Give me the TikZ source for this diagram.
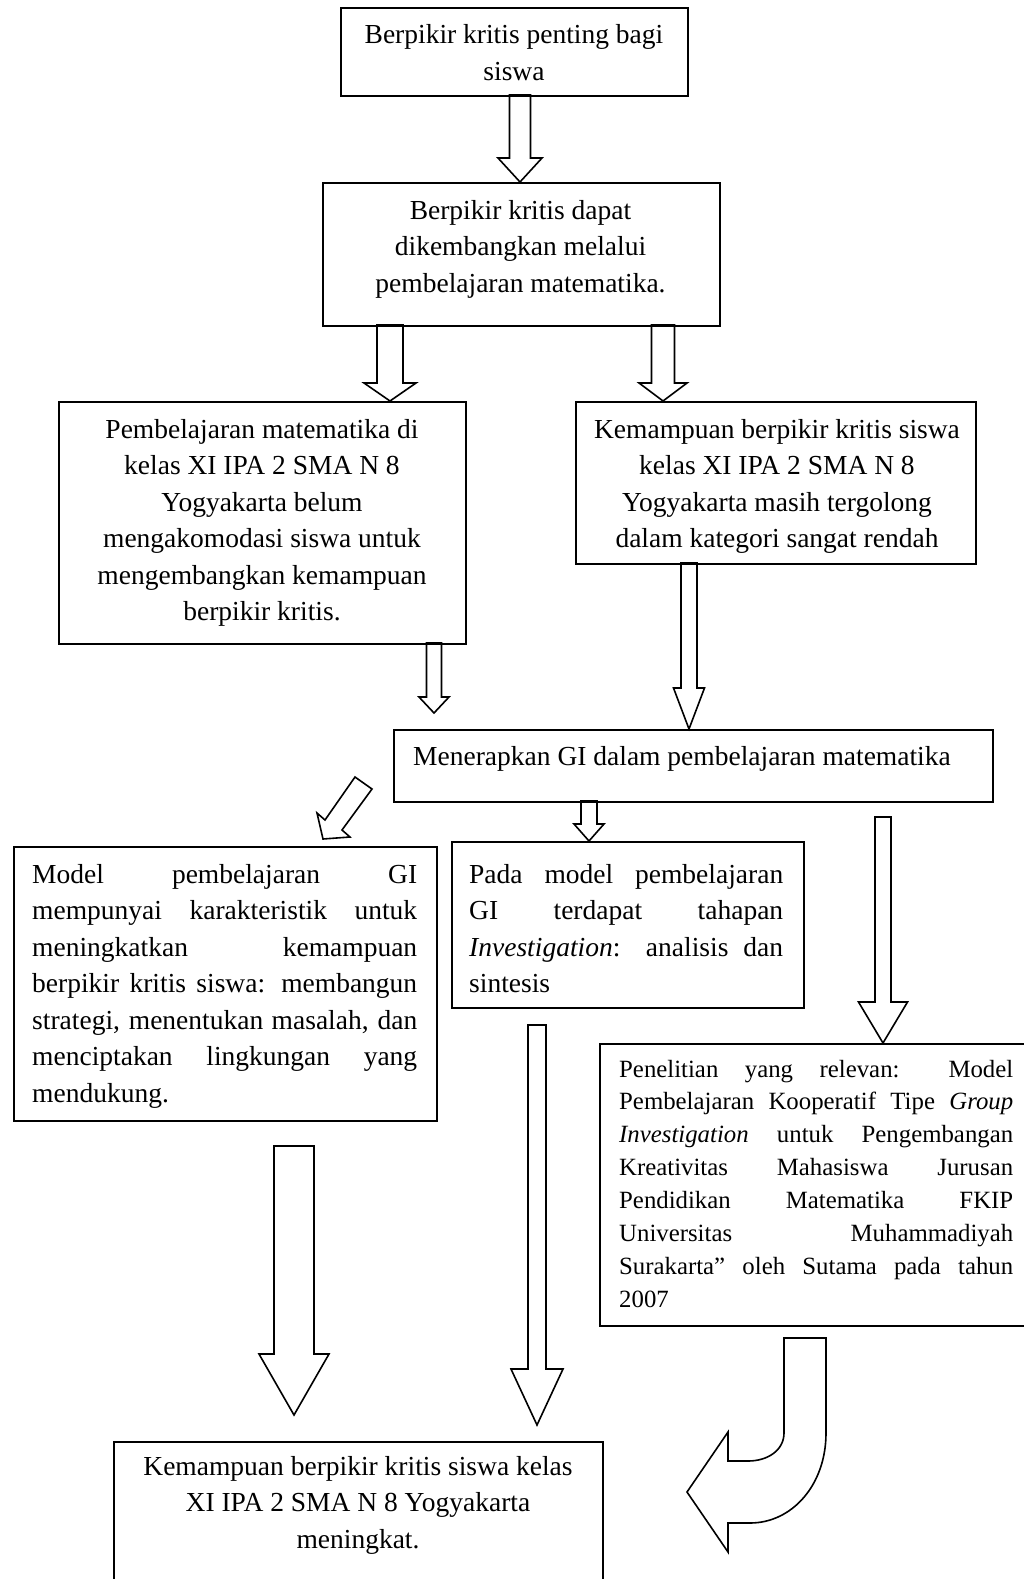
\documentclass[tikz,border=0pt]{standalone}
\usepackage{fontspec}
\setmainfont{Liberation Serif}
\newcommand\mainsize{\fontsize{27.5}{36.5}\selectfont}
\newcommand\refsize{\fontsize{24.8}{32.9}\selectfont}
\newcommand\ctext[2]{\vtop{\hsize=#1\parindent=0pt\parskip=0pt\mainsize\centering #2\par}}
\newcommand\jtext[3]{\vtop{\hsize=#1\parindent=0pt\parskip=0pt#2\raggedright #3\par}}
\newcommand\jl[2]{\makebox[#1][s]{#2}}
\newcommand\dnarrow[6]{\draw[blk] (#1-#3,#2) -- (#1-#3,#5) -- (#1-#4,#5) -- (#1,#6) -- (#1+#4,#5) -- (#1+#3,#5) -- (#1+#3,#2) -- cycle;}
\tikzset{
  box/.style={draw, line width=1.8pt, inner sep=0pt, anchor=north west},
  blk/.style={draw, line width=1.6pt, line join=miter},
  txt/.style={inner sep=0pt}
}
\begin{document}
\begin{tikzpicture}[x=1pt,y=-1pt]
\useasboundingbox (0,0) rectangle (1024,1579);
\fill[white] (0,0) rectangle (1024,1579);
\clip (0,0) rectangle (1024,1579);

% boxes
\node[box, minimum width=347pt, minimum height=88pt]  (b1) at (340,7) {};
\node[box, minimum width=397pt, minimum height=143pt] (b2) at (322,182) {};
\node[box, minimum width=407pt, minimum height=242pt] (b3) at (58,401) {};
\node[box, minimum width=400pt, minimum height=162pt] (b4) at (575,401) {};
\node[box, minimum width=599pt, minimum height=72pt]  (b5) at (393,729) {};
\node[box, minimum width=423pt, minimum height=274pt] (b6) at (13,846) {};
\node[box, minimum width=352pt, minimum height=166pt] (b7) at (451,841) {};
\node[box, minimum width=440pt, minimum height=282pt] (b8) at (599,1043) {};
\node[box, minimum width=489pt, minimum height=170pt] (b9) at (113,1441) {};

% texts
\node[txt, anchor=base] (t1) at (514,44) {\ctext{440pt}{Berpikir kritis penting bagi\\siswa}};
\node[txt, anchor=base] (t2) at (520.5,219) {\ctext{440pt}{Berpikir kritis dapat\\dikembangkan melalui\\pembelajaran matematika.}};
\node[txt, anchor=base] (t3) at (262,438) {\ctext{440pt}{Pembelajaran matematika di\\kelas XI IPA 2 SMA N 8\\Yogyakarta belum\\mengakomodasi siswa untuk\\mengembangkan kemampuan\\berpikir kritis.}};
\node[txt, anchor=base] (t4) at (777,438) {\ctext{440pt}{Kemampuan berpikir kritis siswa\\kelas XI IPA 2 SMA N 8\\Yogyakarta masih tergolong\\dalam kategori sangat rendah}};
\node[txt, anchor=base west, font=\mainsize] (t5) at (413,765) {Menerapkan GI dalam pembelajaran matematika};
\node[txt, anchor=base west] (t6) at (32,883) {\jtext{385pt}{\mainsize}{%
\jl{385pt}{Model pembelajaran GI}\\
\jl{385pt}{mempunyai karakteristik untuk}\\
\jl{385pt}{meningkatkan kemampuan}\\
\jl{385pt}{berpikir kritis siswa: membangun}\\
\jl{385pt}{strategi, menentukan masalah, dan}\\
\jl{385pt}{menciptakan lingkungan yang}\\
mendukung.}};
\node[txt, anchor=base west] (t7) at (469,883) {\jtext{314pt}{\mainsize}{%
\jl{314pt}{Pada model pembelajaran}\\
\jl{314pt}{GI terdapat tahapan}\\
\jl{314pt}{\textit{Investigation}: analisis dan}\\
sintesis}};
\node[txt, anchor=base west] (t8) at (619,1077) {\jtext{394pt}{\refsize}{%
\jl{394pt}{Penelitian yang relevan: Model}\\
\jl{394pt}{Pembelajaran Kooperatif Tipe \textit{Group}}\\
\jl{394pt}{\textit{Investigation} untuk Pengembangan}\\
\jl{394pt}{Kreativitas Mahasiswa Jurusan}\\
\jl{394pt}{Pendidikan Matematika FKIP}\\
\jl{394pt}{Universitas Muhammadiyah}\\
\jl{394pt}{Surakarta” oleh Sutama pada tahun}\\
2007}};
\node[txt, anchor=base] (t9) at (358,1475) {\ctext{480pt}{Kemampuan berpikir kritis siswa kelas\\XI IPA 2 SMA N 8 Yogyakarta\\meningkat.}};

% block arrows
\dnarrow{520}{95}{10.5}{22}{158}{182}
\dnarrow{390}{325}{13}{26}{383}{401}
\dnarrow{663}{325}{11.5}{24}{383}{401}
\dnarrow{434}{643}{7.5}{15}{697}{713}
\dnarrow{689}{563}{8}{15.5}{688}{729}
\dnarrow{589}{801}{8}{15}{824}{841}
\dnarrow{883}{817}{8}{24.5}{1002}{1043}
\dnarrow{537}{1025}{9}{26}{1369}{1425}
\dnarrow{294}{1146}{20}{35}{1354}{1415}

% diagonal arrow
\draw[blk] (355,777) -- (372,789) -- (342,830) -- (350,837) -- (323,839) -- (317,813) -- (325,820) -- cycle;

% curved arrow
\draw[blk] (784,1338) -- (784,1433) .. controls (784,1450) and (768,1461) .. (748,1461) -- (728,1461) -- (728,1432) -- (687,1492) -- (728,1552) -- (728,1523) -- (750,1523) .. controls (792,1523) and (826,1485) .. (826,1433) -- (826,1338) -- cycle;
\end{tikzpicture}
\end{document}
